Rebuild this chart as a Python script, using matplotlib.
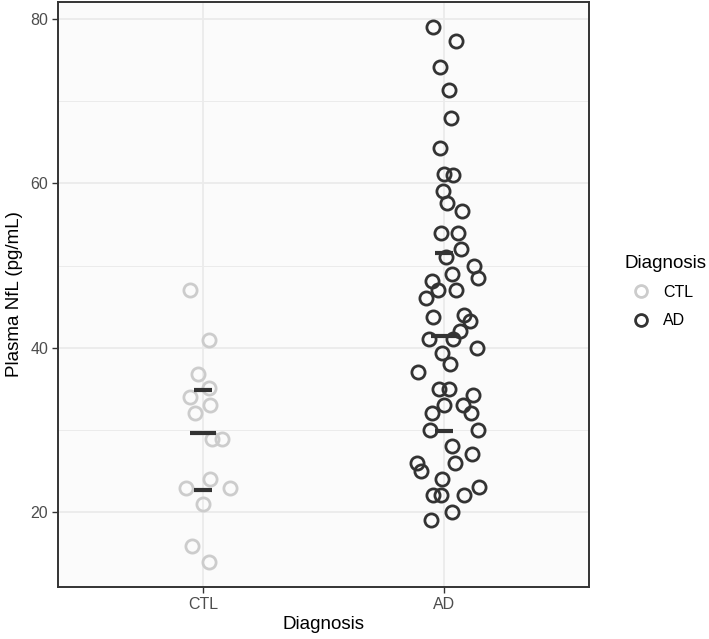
import matplotlib
matplotlib.use('Agg')
import matplotlib.pyplot as plt
from matplotlib.ticker import MultipleLocator

plt.rcParams['font.family'] = ['Liberation Sans', 'DejaVu Sans']

# groups / colours
groups = ['CTL', 'AD']
group_colors = ['#CCCCCC', '#333333']

# plasma NfL values (pg/mL)
ctl_vals = [47.0, 40.9, 36.8, 35.1, 34.0, 33.0, 32.0, 28.9, 28.9, 24.0,
            22.9, 22.9, 21.0, 15.8, 13.9]
ctl_jit = [-0.052, 0.026, -0.022, 0.024, -0.054, 0.030, -0.032, 0.037, 0.079, 0.029,
           -0.071, 0.112, -0.001, -0.045, 0.026]

ad_vals = [79.1, 77.3, 74.2, 71.4, 68.0, 64.3, 61.1, 61.0, 59.1, 57.6,
           56.6, 54.0, 54.0, 52.0, 51.1, 50.0, 48.5, 49.0, 48.1, 47.0,
           47.0, 46.0, 43.7, 44.0, 43.2, 42.0, 41.1, 41.0, 40.0, 39.3,
           38.0, 37.0, 35.0, 35.0, 34.2, 33.0, 33.0, 32.0, 32.0, 30.0,
           30.0, 28.0, 27.0, 26.0, 26.0, 25.0, 24.0, 23.0, 22.0, 22.0,
           22.0, 20.0, 19.0]
ad_jit = [-0.047, 0.050, -0.017, 0.022, 0.029, -0.018, 0.001, 0.038, -0.005, 0.011,
          0.074, -0.012, 0.059, 0.069, 0.008, 0.123, 0.140, 0.034, -0.050, -0.025,
          0.047, -0.076, -0.047, 0.081, 0.107, 0.067, -0.061, 0.038, 0.135, -0.011,
          0.024, -0.110, -0.022, 0.018, 0.121, -0.001, 0.076, 0.112, -0.050, -0.057,
          0.140, 0.034, 0.114, 0.044, -0.113, -0.096, -0.011, 0.143, -0.048, -0.012,
          0.081, 0.033, -0.055]

# quartile lines (25%, 50%, 75%) as drawn
ctl_q = [22.7, 29.55, 34.8]
ad_q = [29.8, 41.4, 51.5]

fig = plt.figure(figsize=(7.09, 6.39), dpi=100)
ax = fig.add_axes([58/709, 1 - 587/639, 531/709, 585/639])
ax.set_facecolor('#FBFBFB')

for i, (vals, jit, q, col, name) in enumerate(zip([ctl_vals, ad_vals], [ctl_jit, ad_jit],
                                                  [ctl_q, ad_q], group_colors, groups)):
    xs = [i + 1 + j for j in jit]
    ax.plot(xs, vals, 'o', ms=9.5, mfc='none', mec=col, mew=2.0, label=name, zorder=3)
    for k, qv in enumerate(q):
        hw = 0.055 if k == 1 else 0.037
        ax.plot([i + 1 - hw, i + 1 + hw], [qv, qv], color='#333333', lw=3,
                solid_capstyle='butt', zorder=4)

ax.set_xlim(0.4, 2.6)
ax.set_ylim(10.85, 82.1)
ax.set_xticks([1, 2])
ax.set_xticklabels(groups)
ax.yaxis.set_major_locator(MultipleLocator(20))
ax.yaxis.set_minor_locator(MultipleLocator(10))
ax.set_yticks([20, 40, 60, 80])

ax.grid(which='major', color='#EBEBEB', lw=1.3, zorder=0)
ax.grid(which='minor', axis='y', color='#EBEBEB', lw=0.7, zorder=0)
ax.set_axisbelow(True)
ax.tick_params(which='minor', length=0)
ax.tick_params(which='major', length=4, width=1, color='#333333',
               labelcolor='#4D4D4D', labelsize=11.5, pad=3)
for s in ax.spines.values():
    s.set_color('#333333')
    s.set_linewidth(1.4)

ax.set_xlabel('Diagnosis', fontsize=13.5, labelpad=3)
ax.set_ylabel('Plasma NfL (pg/mL)', fontsize=13.5, labelpad=5)

leg = ax.legend(title='Diagnosis', loc='center left', bbox_to_anchor=(1.04, 0.505),
                frameon=False, fontsize=11.5, title_fontsize=13.5, handletextpad=0.4,
                labelspacing=0.85, markerscale=0.9)
leg._legend_box.align = 'left'
leg._legend_box.sep = 9

fig.savefig('out.png', dpi=100)
